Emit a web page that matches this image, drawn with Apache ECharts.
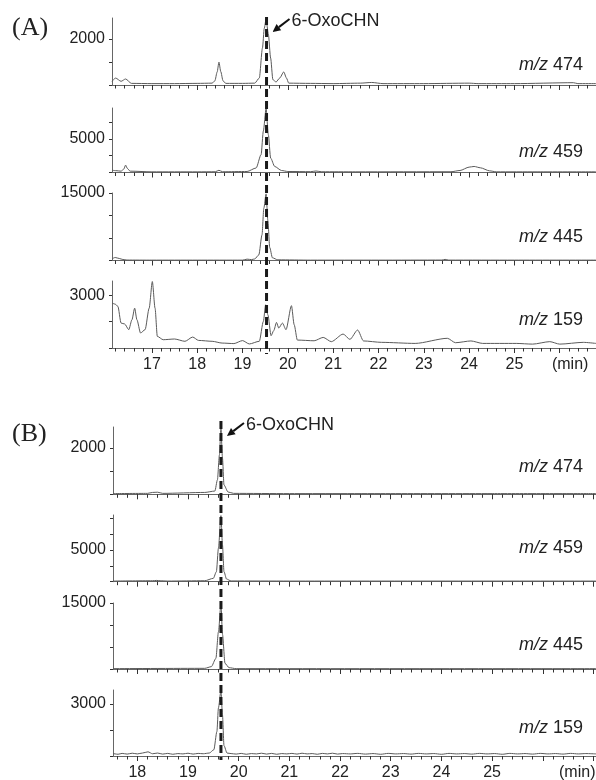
<!DOCTYPE html>
<html>
<head>
<meta charset="utf-8">
<script src="https://cdn.jsdelivr.net/npm/echarts@6/dist/echarts.min.js"></script>
<style>
html, body { margin: 0; padding: 0; background: #fff; }
#chart { width: 596px; height: 780px; }
</style>
</head>
<body>
<div id="chart"></div>
<script>
// ---- data: [time (min), intensity] ----
var traceA474 = [[16.12,160],[16.2,300],[16.32,160],[16.42,260],[16.55,70],[17.0,60],[17.5,60],[18.0,70],[18.33,80],
    [18.39,180],[18.44,560],[18.48,990],[18.52,580],[18.57,180],[18.63,70],[19.0,70],[19.27,80],[19.37,300],[19.44,1600],
    [19.48,2450],[19.52,2850],[19.57,2200],[19.62,1170],[19.67,230],[19.74,130],[19.82,300],[19.91,565],[19.97,300],
    [20.02,80],[20.5,70],[21.0,60],[21.6,80],[21.85,110],[22.1,60],[23.0,60],[24.0,80],[24.2,60],[25.0,60],[26.3,100],
    [26.4,60],[26.8,60]];
var traceA459 = [[16.12,330],[16.2,280],[16.32,200],[16.38,500],[16.42,1100],[16.46,600],[16.52,200],[17.0,100],
    [18.0,100],[18.4,110],[18.48,330],[18.56,110],[19.1,150],[19.3,670],[19.41,2660],[19.46,6200],[19.52,9500],
    [19.57,5640],[19.62,2160],[19.71,900],[19.86,300],[20.0,150],[20.5,120],[20.62,220],[20.75,110],[21.5,100],
    [23.6,110],[23.8,300],[24.0,800],[24.11,900],[24.25,700],[24.45,250],[24.6,100],[25.5,100],[26.8,100]];
var traceA445 = [[16.12,360],[16.19,670],[16.28,450],[16.36,220],[16.45,100],[17.0,80],[18.0,80],[19.0,80],[19.1,300],
    [19.2,200],[19.27,350],[19.36,1250],[19.43,5700],[19.47,11600],[19.52,14800],[19.56,8800],[19.6,2900],[19.66,600],
    [19.78,150],[20.5,80],[22.0,80],[23.4,100],[23.47,250],[23.55,90],[25.0,80],[26.8,80]];
var traceA159 = [[16.12,2550],[16.19,2490],[16.25,2360],[16.32,1415],[16.4,1360],[16.49,1040],[16.56,1600],[16.62,2260],
    [16.67,1600],[16.75,850],[16.85,1040],[16.94,2260],[17.01,3770],[17.07,2260],[17.12,660],[17.25,470],[17.5,510],
    [17.73,380],[17.9,620],[18.03,430],[18.33,380],[18.55,280],[18.81,250],[19.0,420],[19.15,230],[19.37,380],
    [19.46,1510],[19.51,2450],[19.56,1880],[19.63,700],[19.69,990],[19.75,1450],[19.8,1130],[19.88,1415],[19.96,1040],
    [20.08,2400],[20.14,1320],[20.21,450],[20.58,410],[20.78,600],[20.96,360],[21.22,790],[21.37,490],[21.54,1020],
    [21.67,400],[22.07,320],[22.81,260],[23.52,550],[23.7,300],[24.04,400],[24.3,260],[25.04,260],[25.4,220],
    [25.78,360],[26.0,220],[26.52,320],[26.8,260]];

var traceB474 = [[17.52,30],[18.2,40],[18.3,80],[18.4,90],[18.5,40],[19.33,80],[19.53,140],[19.58,620],[19.62,1700],
    [19.65,2850],[19.68,1560],[19.71,400],[19.79,100],[19.9,40],[21.0,30],[23.0,30],[25.0,30],[27.05,30]];
var traceB459 = [[17.52,100],[18.3,150],[18.38,200],[18.45,150],[18.6,100],[19.33,150],[19.5,530],[19.56,1580],
    [19.6,5270],[19.65,10400],[19.68,5790],[19.71,1580],[19.76,420],[19.85,120],[21.0,100],[27.05,100]];
var traceB445 = [[17.52,80],[19.33,150],[19.46,530],[19.55,2400],[19.6,8400],[19.65,14800],[19.68,7900],[19.73,1280],
    [19.81,300],[19.95,80],[27.05,80]];
var traceB159 = [[17.52,140],[17.62,100],[17.7,150],[17.8,110],[17.9,160],[18.0,120],[18.1,170],[18.21,240],[18.3,130],
    [18.4,170],[18.5,110],[18.6,150],[18.7,100],[18.8,140],[18.9,120],[19.0,160],[19.1,110],[19.2,150],[19.3,130],
    [19.42,170],[19.51,360],[19.57,1410],[19.6,2760],[19.65,3770],[19.68,2370],[19.71,600],[19.77,170],[19.85,140],
    [19.95,110],[20.05,150],[20.15,100],[20.25,140],[20.35,120],[20.45,160],[20.55,110],[20.65,150],[20.75,100],
    [20.85,140],[20.95,120],[21.05,150],[21.15,110],[21.25,160],[21.35,120],[21.45,140],[21.55,100],[21.65,150],
    [21.75,120],[21.85,160],[21.95,110],[22.05,140],[22.2,120],[22.35,150],[22.5,110],[22.65,140],[22.8,100],
    [22.95,150],[23.1,120],[23.25,140],[23.4,110],[23.55,150],[23.7,120],[23.85,140],[24.0,100],[24.15,150],
    [24.3,120],[24.45,140],[24.6,110],[24.75,150],[24.9,120],[25.05,140],[25.2,100],[25.35,150],[25.5,120],
    [25.65,140],[25.8,110],[25.95,150],[26.1,120],[26.25,140],[26.4,110],[26.55,150],[26.7,120],[26.85,140],[27.05,120]];

// tick labels of the time axes
var xLabelsA = [17, 18, 19, 20, 21, 22, 23, 24, 25];
var xLabelsB = [18, 19, 20, 21, 22, 23, 24, 25];
var unitPosA = 26.23;   // where "(min)" sits on each axis
var unitPosB = 26.68;

// retention time of 6-OxoCHN in each run
var peakTimeA = 19.53;
var peakTimeB = 19.65;

var ionNames = ['474', '459', '445', '159'];

var traceColor = '#5a5a5a';
var axisColor = '#666';
var tickColor = '#333';
var sans = '"Liberation Sans", Arial, sans-serif';

// panel layout
var panels = [
    { left: 112, xMin: 16.12, xMax: 26.8, labels: xLabelsA, unitPos: unitPosA, peak: peakTimeA,
      dashTop: 17, dashBottom: 354, letter: '(A)', letterY: 28 },
    { left: 113, xMin: 17.52, xMax: 27.05, labels: xLabelsB, unitPos: unitPosB, peak: peakTimeB,
      dashTop: 421, dashBottom: 760, letter: '(B)', letterY: 434 }
];

// one entry per trace
var subplots = [
    { data: traceA474, panel: 0, top: 18,  height: 67,   yMax: 2900,  yTicks: [0, 1000, 2000], yLabel: 2000, mzY: 65 },
    { data: traceA459, panel: 0, top: 108, height: 64.5, yMax: 9600,  yTicks: [0, 2500, 5000, 7500], yLabel: 5000, mzY: 152 },
    { data: traceA445, panel: 0, top: 193, height: 67.5, yMax: 15000, yTicks: [0, 5000, 10000, 15000], yLabel: 15000, mzY: 237 },
    { data: traceA159, panel: 0, top: 281, height: 67,   yMax: 3800,  yTicks: [0, 1500, 3000], yLabel: 3000, mzY: 320, last: true },
    { data: traceB474, panel: 1, top: 427, height: 67.3, yMax: 2900,  yTicks: [0, 1000, 2000], yLabel: 2000, mzY: 467 },
    { data: traceB459, panel: 1, top: 515, height: 66.7, yMax: 10500, yTicks: [0, 2500, 5000, 7500, 10000], yLabel: 5000, mzY: 548 },
    { data: traceB445, panel: 1, top: 603, height: 66,   yMax: 15000, yTicks: [0, 5000, 10000, 15000], yLabel: 15000, mzY: 645 },
    { data: traceB159, panel: 1, top: 690, height: 66,   yMax: 3800,  yTicks: [0, 1500, 3000], yLabel: 3000, mzY: 728, last: true }
];

// tick positions inside an axis range
function tickList(min, max, step) {
    var out = [];
    var v = Math.ceil(min / step - 1e-9) * step;
    while (v <= max + 1e-9) {
        out.push(Math.round(v * 100) / 100);
        v += step;
    }
    return out;
}

var grids = [], xAxes = [], yAxes = [], series = [];

for (var i = 0; i < subplots.length; i++) {
    var s = subplots[i];
    var p = panels[s.panel];
    var majors = tickList(p.xMin, p.xMax, 1);
    var minors = tickList(p.xMin, p.xMax, 0.2);

    grids.push({ left: p.left, right: 0, top: s.top, height: s.height, outerBoundsMode: 'none', containLabel: false });

    // main time axis: line, integer ticks and (for the last trace) labels
    xAxes.push({
        type: 'value', gridIndex: i, position: 'bottom', min: p.xMin, max: p.xMax,
        axisLine: { show: true, lineStyle: { color: axisColor, width: 1 } },
        axisTick: { show: true, length: 5, customValues: majors, lineStyle: { color: tickColor, width: 1 } },
        splitLine: { show: false },
        axisLabel: {
            show: !!s.last, margin: 9, fontSize: 16, fontFamily: sans, color: '#222',
            customValues: p.labels.concat([p.unitPos]),
            formatter: (function (unit) {
                return function (v) { return Math.abs(v - unit) < 0.01 ? '(min)' : String(v); };
            })(p.unitPos)
        }
    });
    // second axis only for the 0.2 min ticks (moved down onto the baseline)
    xAxes.push({
        type: 'value', gridIndex: i, position: 'top', offset: -s.height, min: p.xMin, max: p.xMax,
        axisLine: { show: false },
        axisTick: { show: true, inside: true, length: 3.5, customValues: minors, lineStyle: { color: tickColor, width: 1 } },
        splitLine: { show: false },
        axisLabel: { show: false }
    });

    yAxes.push({
        type: 'value', gridIndex: i, min: 0, max: s.yMax,
        axisLine: { show: true, lineStyle: { color: axisColor, width: 1 } },
        axisTick: { show: true, length: 3, customValues: s.yTicks, lineStyle: { color: tickColor } },
        splitLine: { show: false },
        axisLabel: {
            margin: 7, fontSize: 16, fontFamily: sans, color: '#222',
            customValues: [s.yLabel],
            formatter: function (v) { return String(v); }
        }
    });

    series.push({
        type: 'line', xAxisIndex: i * 2, yAxisIndex: i, data: s.data,
        symbol: 'none', smooth: 0.25, smoothMonotone: 'x',
        lineStyle: { color: traceColor, width: 1 }
    });
}

var chart = echarts.init(document.getElementById('chart'));
chart.setOption({
    animation: false,
    grid: grids,
    xAxis: xAxes,
    yAxis: yAxes,
    series: series
});

// text, dashed peak line and arrow, placed from the axes
function buildGraphic() {
    var els = [];
    for (var k = 0; k < panels.length; k++) {
        var p = panels[k];
        var firstGrid = k * 4;
        var x = chart.convertToPixel({ gridIndex: firstGrid }, [p.peak, 0])[0];

        els.push({
            type: 'line', z: 10,
            shape: { x1: x, y1: p.dashTop, x2: x, y2: p.dashBottom },
            style: { stroke: '#1a1a1a', lineWidth: 3, lineDash: [8, 4] }
        });

        // arrow pointing at the peak top
        var head = [x + 6, p.dashTop + 15];
        var tail = [head[0] + 17, head[1] - 13];
        var dx = head[0] - tail[0], dy = head[1] - tail[1];
        var len = Math.sqrt(dx * dx + dy * dy);
        var ux = dx / len, uy = dy / len;
        var bx = head[0] - ux * 8, by = head[1] - uy * 8;
        els.push({
            type: 'line', z: 11,
            shape: { x1: tail[0], y1: tail[1], x2: bx, y2: by },
            style: { stroke: '#111', lineWidth: 2 }
        });
        els.push({
            type: 'polygon', z: 11,
            shape: { points: [head, [bx - uy * 3.8, by + ux * 3.8], [bx + uy * 3.8, by - ux * 3.8]] },
            style: { fill: '#111' }
        });
        els.push({
            type: 'text', z: 11, x: tail[0] + 2, y: tail[1] + 2,
            style: { text: '6-OxoCHN', fontSize: 18, fontFamily: sans, fill: '#222', verticalAlign: 'middle' }
        });

        els.push({
            type: 'text', x: 12, y: p.letterY,
            style: { text: p.letter, fontSize: 26, fontFamily: '"Liberation Serif", "Times New Roman", serif',
                     fill: '#222', verticalAlign: 'middle' }
        });
    }

    // ion labels on the right
    for (var i = 0; i < subplots.length; i++) {
        els.push({
            type: 'text', x: 583, y: subplots[i].mzY,
            style: {
                text: '{i|m/z} ' + ionNames[i % 4],
                fontSize: 18, fontFamily: sans, fill: '#222', align: 'right', verticalAlign: 'middle',
                rich: { i: { fontStyle: 'italic', fontSize: 18, fontFamily: sans, fill: '#222' } }
            }
        });
    }
    return els;
}

chart.setOption({ graphic: buildGraphic() });
</script>
</body>
</html>
